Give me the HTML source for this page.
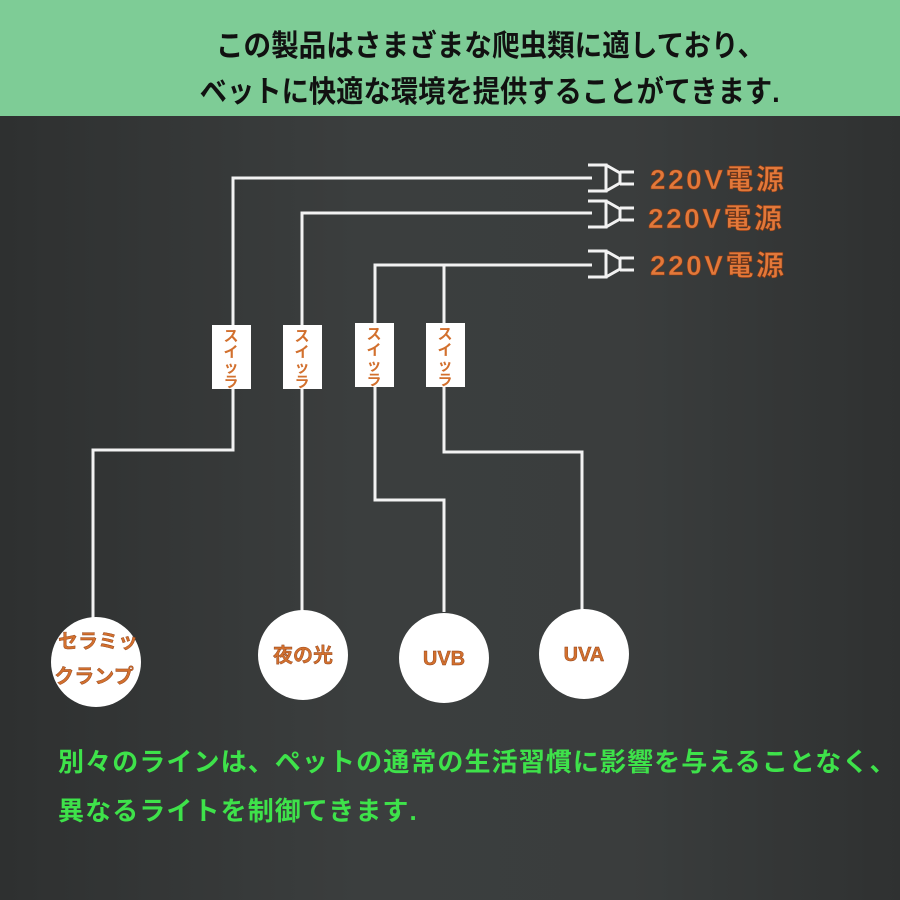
<!DOCTYPE html>
<html><head><meta charset="utf-8"><style>
html,body{margin:0;padding:0}
body{width:900px;height:900px;overflow:hidden;position:relative;background:linear-gradient(90deg,#2e3030 0%,#3b3e3e 40%,#3a3d3d 70%,#2f3131 100%);font-family:"Liberation Sans","Noto Sans CJK JP",sans-serif}
.hdr{position:absolute;left:0;top:0;width:900px;height:116px;background:#7ecc96}
.h{position:absolute;left:40px;width:900px;text-align:center;font-size:30px;font-weight:bold;color:#111;white-space:nowrap}
.h span{display:inline-block}
.g{position:absolute;left:58px;font-size:26px;font-weight:bold;color:#3ee24a;white-space:nowrap;letter-spacing:1.1px}
</style></head><body>
<div class="hdr"></div>
<div class="h" style="top:21px"><span style="transform:scaleX(0.92)">この製品はさまざまな爬虫類に適しており、</span></div>
<div class="h" style="top:67px"><span style="transform:scaleX(0.91)">ベットに快適な環境を提供することがてきます.</span></div>
<svg width="900" height="900" style="position:absolute;left:0;top:0" font-family="Liberation Sans, Noto Sans CJK JP, sans-serif">
<g stroke="#f2f2f2" stroke-width="3" fill="none">
<polyline points="592,178 233,178 233,450 93,450 93,620"/>
<polyline points="592,213 302,213 302,612"/>
<polyline points="592,265 375,265 375,500 444,500 444,612"/>
<polyline points="444,265 444,452 582,452 582,610"/>
</g>
<g stroke="#f2f2f2" stroke-width="3" fill="none">
<g transform="translate(0,178)"><path d="M588,-13 L606,-13 L606,13 L588,13 M606,-13 L620,-5 L620,5 L606,13 M620,-6 L634,-6 M620,6 L634,6"/></g>
<g transform="translate(0,214)"><path d="M588,-13 L606,-13 L606,13 L588,13 M606,-13 L620,-5 L620,5 L606,13 M620,-6 L634,-6 M620,6 L634,6"/></g>
<g transform="translate(0,264)"><path d="M588,-13 L606,-13 L606,13 L588,13 M606,-13 L620,-5 L620,5 L606,13 M620,-6 L634,-6 M620,6 L634,6"/></g>
</g>
<g font-size="28" font-weight="bold" fill="#e2783a" stroke="#8a3a12" stroke-width="0.6">
<text x="650" y="189" textLength="134">220V電源</text>
<text x="648" y="228" textLength="134">220V電源</text>
<text x="650" y="275" textLength="134">220V電源</text>
</g>
<g fill="#fff">
<rect x="212" y="325" width="39" height="64"/>
<rect x="283" y="325" width="39" height="64"/>
<rect x="355" y="323" width="39" height="64"/>
<rect x="426" y="323" width="39" height="64"/>
<circle cx="96" cy="662" r="45"/>
<circle cx="303" cy="655" r="45"/>
<circle cx="444" cy="658" r="45"/>
<circle cx="584" cy="654" r="45"/>
</g>
<g font-size="15" font-weight="bold" fill="#d2702e" text-anchor="middle">
<text x="231" y="341">ス</text><text x="231" y="357">イ</text><text x="231" y="372">ッ</text><text x="231" y="387">ラ</text>
<text x="302" y="341">ス</text><text x="302" y="357">イ</text><text x="302" y="372">ッ</text><text x="302" y="387">ラ</text>
<text x="374" y="339">ス</text><text x="374" y="355">イ</text><text x="374" y="370">ッ</text><text x="374" y="385">ラ</text>
<text x="445" y="339">ス</text><text x="445" y="355">イ</text><text x="445" y="370">ッ</text><text x="445" y="385">ラ</text>
</g>
<g font-size="20" font-weight="bold" fill="#d2702e" stroke="#8a3a12" stroke-width="0.4" text-anchor="middle">
<text x="98" y="648">セラミッ</text>
<text x="94" y="683">クランプ</text>
<text x="303" y="662">夜の光</text>
<text x="444" y="665">UVB</text>
<text x="584" y="661">UVA</text>
</g>
</svg>
<div class="g" style="top:742px">別々のラインは、ペットの通常の生活習慣に影響を与えることなく、</div>
<div class="g" style="top:791px">異なるライトを制御てきます.</div>
</body></html>
